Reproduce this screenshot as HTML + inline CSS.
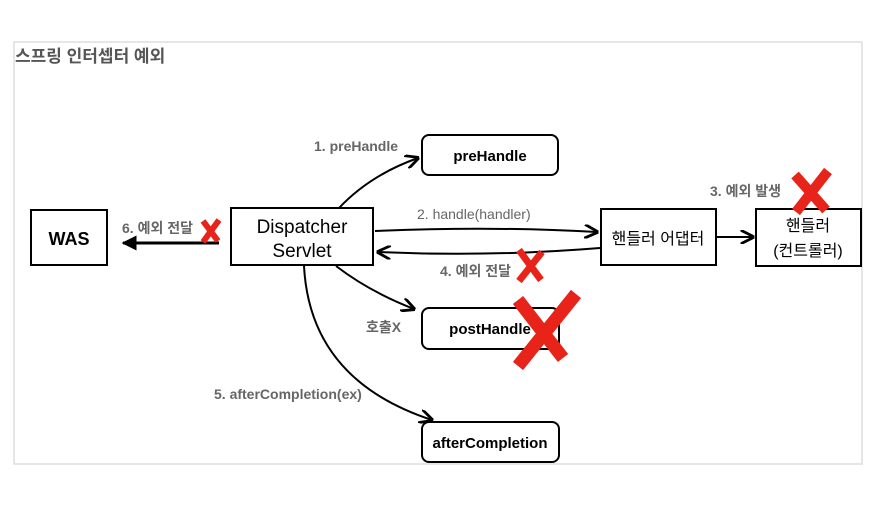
<!DOCTYPE html>
<html><head><meta charset="utf-8"><style>
body{margin:0;background:#fff;width:885px;height:507px;overflow:hidden}
svg text{font-family:"Liberation Sans","Noto Sans CJK KR",sans-serif}
</style></head><body>
<svg width="885" height="507" viewBox="0 0 885 507">
<defs><marker id="a" viewBox="0 0 10 10" refX="9" refY="5" markerWidth="7" markerHeight="7" orient="auto"><path d="M0,0 L10,5 L0,10" fill="none" stroke="#000" stroke-width="2"/></marker>
<marker id="b" viewBox="0 0 10 10" refX="9" refY="5" markerWidth="5" markerHeight="5" orient="auto"><path d="M0,0 L10,5 L0,10 Z" fill="#000"/></marker></defs>
<rect x="14" y="42" width="848" height="422" fill="#fff" stroke="#ddd" stroke-width="1.5"/>
<text x="15" y="62" font-size="17" font-weight="bold" fill="#555">스프링 인터셉터 예외</text>
<g fill="#fff" stroke="#000" stroke-width="2">
<rect x="31" y="210" width="76" height="55"/>
<rect x="231" y="208" width="142" height="57"/>
<rect x="601" y="209" width="115" height="56"/>
<rect x="756" y="209" width="105" height="57"/>
<rect x="422" y="135" width="136" height="40" rx="7"/>
<rect x="422" y="308" width="137" height="41" rx="7"/>
<rect x="422" y="422" width="137" height="40" rx="7"/>
</g>
<g font-weight="bold" text-anchor="middle" fill="#000">
<text x="69" y="245" font-size="18">WAS</text>
<text x="302" y="233" font-size="19" font-weight="normal">Dispatcher</text>
<text x="302" y="257" font-size="19" font-weight="normal">Servlet</text>
<text x="490" y="161" font-size="15">preHandle</text>
<text x="490" y="334" font-size="15">postHandle</text>
<text x="490" y="448" font-size="15">afterCompletion</text>
<text x="658" y="244" font-size="16" font-weight="normal">핸들러 어댑터</text>
<text x="808" y="231" font-size="16" font-weight="normal">핸들러</text>
<text x="808" y="256" font-size="16" font-weight="normal">(컨트롤러)</text>
</g>
<g fill="none" stroke="#000" stroke-width="2" marker-end="url(#a)">
<path d="M339,208 Q370,175 418,158"/>
<path d="M375,231 Q490,226 597,232"/>
<path d="M600,248 Q490,257 378,252"/>
<path d="M716,237 L753,237"/>
<path d="M336,266 Q370,292 414,309"/>
<path d="M304,266 Q310,380 432,420"/>
</g>
<path d="M219,243 L123,243" stroke="#000" stroke-width="3" marker-end="url(#b)"/>
<g font-size="14" font-weight="bold" fill="#666">
<text x="314" y="151">1. preHandle</text>
<text x="417" y="219" font-weight="normal">2. handle(handler)</text>
<text x="710" y="196">3. 예외 발생</text>
<text x="440" y="276">4. 예외 전달</text>
<text x="122" y="233">6. 예외 전달</text>
<text x="366" y="332">호출X</text>
<text x="214" y="399">5. afterCompletion(ex)</text>
</g>
<g stroke="#e8231a" stroke-linecap="butt" fill="none">
<path d="M203,221 L218,241 M219,220 L203,242" stroke-width="6"/>
<path d="M519,250 L541,280 M542,252 L519,281" stroke-width="7"/>
<path d="M795,175 L826,210 M828,171 L796,212" stroke-width="10"/>
<path d="M518,300 L563,358 M576,294 L518,366" stroke-width="13"/>
</g>
</svg>
</body></html>
